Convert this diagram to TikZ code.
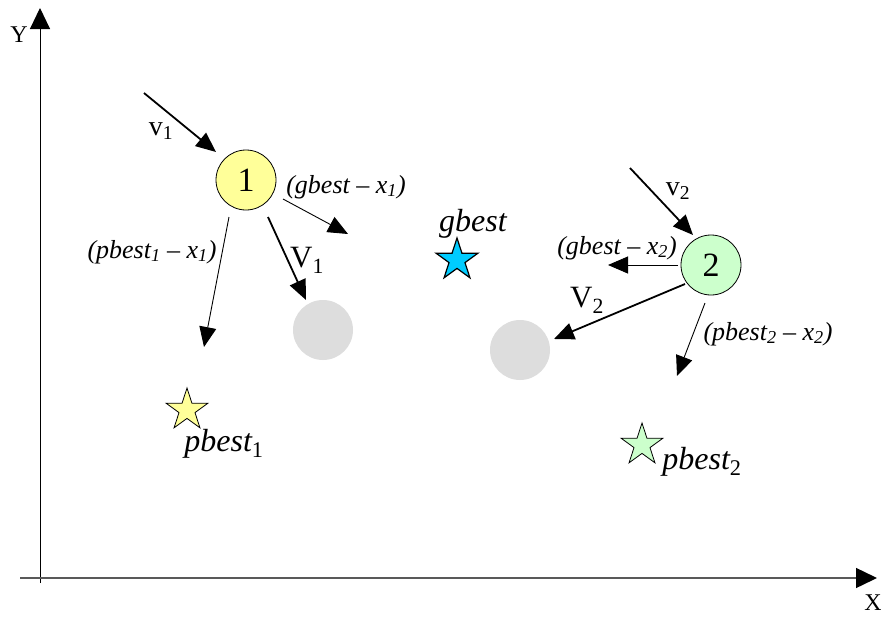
\documentclass[tikz,border=0pt]{standalone}
\usepackage{fontspec}
\setmainfont{Liberation Serif}
\usetikzlibrary{arrows.meta,shapes.geometric}
\definecolor{pyellow}{RGB}{255,255,153}
\definecolor{pgreen}{RGB}{204,255,204}
\definecolor{pblue}{RGB}{0,204,255}
\definecolor{pgray}{RGB}{221,221,221}
\begin{document}
\begin{tikzpicture}[x=1pt,y=-1pt,
  bigtip/.style={-{Triangle[length=20pt,width=17pt]}},
  thickarrow/.style={bigtip,line width=1.8pt},
  thinarrow/.style={bigtip,line width=0.9pt},
  axis/.style={line width=1pt,-{Triangle[length=21pt,width=20pt,color=black]}},
  particle/.style={circle,draw,line width=0.8pt,minimum size=60pt,inner sep=0pt,font=\fontsize{34}{34}\selectfont},
  ghost/.style={circle,fill=pgray,minimum size=60pt,inner sep=0pt},
  beststar/.style={star,star points=5,star point ratio=2.618,draw,line width=0.8pt,minimum size=44pt,inner sep=0pt},
  lbl/.style={inner sep=0pt,font=\fontsize{24}{24}\selectfont},
  vlbl/.style={inner sep=0pt,font=\fontsize{28}{28}\selectfont},
  vvlbl/.style={inner sep=0pt,font=\fontsize{31}{31}\selectfont},
  ilbl/.style={inner sep=0pt,font=\fontsize{26}{26}\selectfont\itshape},
  slbl/.style={inner sep=0pt,font=\fontsize{32}{32}\selectfont\itshape}]
\useasboundingbox (0,0) rectangle (881,616);
% axes
\coordinate (o) at (40,583);
\coordinate (ytip) at (40,8);
\coordinate (xs) at (20,578);
\coordinate (xtip) at (877,578);
\draw[axis] (o) -- (ytip);
\draw[axis,draw=black!65,line width=1.4pt] (xs) -- (xtip);
\node[lbl] (ylab) at (19,35) {Y};
\node[lbl] (xlab) at (873,603) {X};
% particle 1
\node[particle,fill=pyellow] (p1) at (246,180) {1};
\node[ghost] (g1) at (323,330) {};
\coordinate (v1s) at (144,93);
\coordinate (v1e) at (216,152);
\draw[thickarrow] (v1s) -- (v1e);
\node[vlbl] (v1lab) at (161,131) {v\textsubscript{1}};
\coordinate (gx1s) at (283,199);
\coordinate (gx1e) at (348,234);
\draw[thinarrow] (gx1s) -- (gx1e);
\node[ilbl] (gx1lab) at (346,187) {(gbest – x\textsubscript{1})};
\coordinate (V1s) at (268,217);
\coordinate (V1e) at (306,300);
\draw[thickarrow] (V1s) -- (V1e);
\node[vvlbl] (V1lab) at (307,260) {V\textsubscript{1}};
\coordinate (px1s) at (229,217);
\coordinate (px1e) at (204,347);
\draw[thinarrow] (px1s) -- (px1e);
\node[ilbl] (px1lab) at (152,252) {(pbest\textsubscript{1} – x\textsubscript{1})};
\node[beststar,fill=pyellow] (s1) at (187,410) {};
\node[slbl] (s1lab) at (224,444) {pbest\textsubscript{\upshape 1}};
% gbest
\node[beststar,fill=pblue,line width=1.2pt] (gb) at (457,260) {};
\node[slbl] (gblab) at (473,224) {gbest};
% particle 2
\node[particle,fill=pgreen] (p2) at (711,265) {2};
\node[ghost] (g2) at (520,350) {};
\coordinate (v2s) at (630,168);
\coordinate (v2e) at (693,235);
\draw[thickarrow] (v2s) -- (v2e);
\node[vlbl] (v2lab) at (678,191) {v\textsubscript{2}};
\coordinate (gx2s) at (678,265);
\coordinate (gx2e) at (608,265);
\draw[thinarrow] (gx2s) -- (gx2e);
\node[ilbl] (gx2lab) at (617,248) {(gbest – x\textsubscript{2})};
\coordinate (V2s) at (685,284);
\coordinate (V2e) at (554,339);
\draw[thickarrow] (V2s) -- (V2e);
\node[vvlbl] (V2lab) at (587,300) {V\textsubscript{2}};
\coordinate (px2s) at (705,303);
\coordinate (px2e) at (677,376);
\draw[thinarrow] (px2s) -- (px2e);
\node[ilbl] (px2lab) at (768,334) {(pbest\textsubscript{2} – x\textsubscript{2})};
\node[beststar,fill=pgreen] (s2) at (642,445) {};
\node[slbl] (s2lab) at (702,462) {pbest\textsubscript{\upshape 2}};
\end{tikzpicture}
\end{document}
